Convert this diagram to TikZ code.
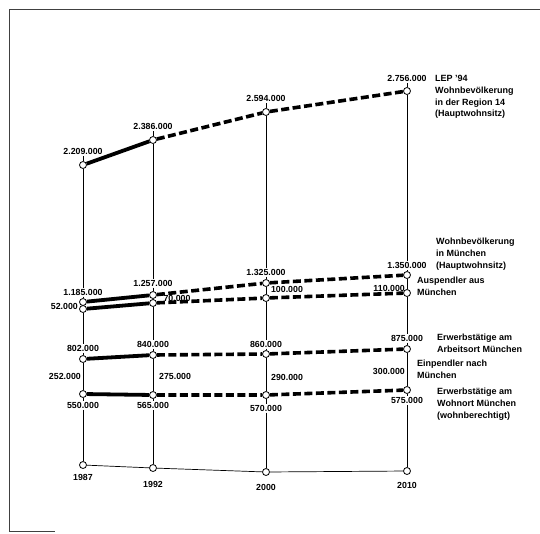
\documentclass[tikz,border=0pt]{standalone}
\usepackage{fontspec}
\setmainfont{Liberation Sans}
\usepackage{tikz}
\usetikzlibrary{positioning}
\usetikzlibrary{backgrounds}
\newcommand{\numfont}{\fontsize{8.8}{10}\selectfont\bfseries}
\newcommand{\txtfont}{\fontsize{9}{11.8}\selectfont\bfseries}
\tikzset{
    knot/.style={draw, circle, fill=white, minimum size=7pt, inner sep=0pt, line width=0.8pt},
    num/.style={font=\numfont, inner sep=1pt},
    caption/.style={font=\txtfont, anchor=west, align=left, inner sep=0pt},
    axis/.style={line width=0.7pt},
    past/.style={line width=3.8pt},
    plan/.style={line width=3.6pt, dash pattern=on 8pt off 3.5pt},
    frame/.style={line width=0.9pt, black!75}
}

\begin{document}
\begin{tikzpicture}[x=1pt, y=-1pt]
      \useasboundingbox (0,0) rectangle (540,533);
      \draw[frame] (540,9) -- (9,9) -- (9,531) -- (55,531);

      % Region 14
      \node[knot] (reg87) at (83,165) {};
      \node[knot] (reg92) at (153,140) {};
      \node[knot] (reg00) at (266,112) {};
      \node[knot] (reg10) at (407,91) {};
      \node[num, above=5pt of reg87] (lreg87) {2.209.000};
      \node[num, above=5pt of reg92] (lreg92) {2.386.000};
      \node[num, above=5pt of reg00] (lreg00) {2.594.000};
      \node[num, above=4pt of reg10] (lreg10) {2.756.000};

      % Muenchen
      \node[knot] (muc87) at (83,302) {};
      \node[knot] (muc92) at (153,295) {};
      \node[knot] (muc00) at (266,283) {};
      \node[knot] (muc10) at (407,275) {};
      \node[num, above=1.5pt of muc87] (lmuc87) {1.185.000};
      \node[num, above=3.5pt of muc92] (lmuc92) {1.257.000};
      \node[num, above=2.5pt of muc00] (lmuc00) {1.325.000};
      \node[num, above=1pt of muc10] (lmuc10) {1.350.000};

      % Auspendler
      \node[knot] (aus87) at (83,309) {};
      \node[knot] (aus92) at (153,303) {};
      \node[knot] (aus00) at (266,298) {};
      \node[knot] (aus10) at (407,293) {};
      \node[num, anchor=east] (laus87) at (79,306) {52.000};
      \node[num] (laus92) at (177,298) {70.000};
      \node[num] (laus00) at (287,289) {100.000};
      \node[num, anchor=east] (laus10) at (406,288) {110.000};

      % Arbeitsort
      \node[knot] (arb87) at (83,359) {};
      \node[knot] (arb92) at (153,355) {};
      \node[knot] (arb00) at (266,354) {};
      \node[knot] (arb10) at (407,349) {};
      \node[num, above=2.5pt of arb87] (larb87) {802.000};
      \node[num, above=2.5pt of arb92] (larb92) {840.000};
      \node[num, above=1.5pt of arb00] (larb00) {860.000};
      \node[num, above=2.5pt of arb10] (larb10) {875.000};

      % Einpendler
      \node[num, anchor=east] (lein87) at (82,376) {252.000};
      \node[num, anchor=west] (lein92) at (158,376) {275.000};
      \node[num, anchor=west] (lein00) at (270,377) {290.000};
      \node[num, anchor=east] (lein10) at (406,371) {300.000};

      % Wohnort
      \node[knot] (woh87) at (83,394) {};
      \node[knot] (woh92) at (153,395) {};
      \node[knot] (woh00) at (266,395) {};
      \node[knot] (woh10) at (407,390) {};
      \node[num, below=3pt of woh87] (lwoh87) {550.000};
      \node[num, below=2.5pt of woh92] (lwoh92) {565.000};
      \node[num, below=5pt of woh00] (lwoh00) {570.000};
      \node[num, below=2.5pt of woh10] (lwoh10) {575.000};

      % years
      \node[knot] (year87) at (83,465) {};
      \node[knot] (year92) at (153,468) {};
      \node[knot] (year00) at (266,472) {};
      \node[knot] (year10) at (407,471) {};
      \node[num, below=4pt of year87] (lyear87) {1987};
      \node[num, below=8pt of year92] (lyear92) {1992};
      \node[num, below=7pt of year00] (lyear00) {2000};
      \node[num, below=6pt of year10] (lyear10) {2010};

      \node[caption] (treg) at (435,97) {LEP '94\\Wohnbevölkerung\\in der Region 14\\(Hauptwohnsitz)};
      \node[caption] (tmuc) at (436,254) {Wohnbevölkerung\\in München\\(Hauptwohnsitz)};
      \node[caption] (taus) at (417,286) {Auspendler aus\\München};
      \node[caption] (tarb) at (437,343) {Erwerbstätige am\\Arbeitsort München};
      \node[caption] (tein) at (417,369.5) {Einpendler nach\\München};
      \node[caption] (twoh) at (437,404) {Erwerbstätige am\\Wohnort München\\(wohnberechtigt)};

      \begin{pgfonlayer}{background}
      \draw[axis] (lreg87) -- (reg87) (reg87) -- (lmuc87) (lmuc87) -- (muc87) (aus87) -- (larb87)
          (larb87) -- (arb87) (arb87) -- (woh87) (woh87) -- (lwoh87) (lwoh87) -- (year87);
      \draw[axis] (lreg92) -- (reg92) (reg92) -- (lmuc92) (lmuc92) -- (muc92) (muc92) -- (aus92) (aus92) -- (larb92)
          (larb92) -- (arb92) (arb92) -- (woh92) (woh92) -- (lwoh92) (lwoh92) -- (year92);
      \draw[axis] (lreg00) -- (reg00) (reg00) -- (lmuc00) (lmuc00) -- (muc00) (muc00) -- (aus00) (aus00) -- (larb00)
          (larb00) -- (arb00) (arb00) -- (woh00) (woh00) -- (lwoh00) (lwoh00) -- (year00);
      \draw[axis] (lreg10) -- (reg10) (reg10) -- (lmuc10) (lmuc10) -- (muc10) (muc10) -- (aus10) (aus10) -- (larb10)
          (larb10) -- (arb10) (arb10) -- (woh10) (woh10) -- (lwoh10) (lwoh10) -- (year10);
      \draw[axis] (year87) -- (year92) -- (year00) -- (year10);

      \draw[past] (reg87) -- (reg92);
      \draw[plan] (reg92) -- (reg00) -- (reg10);
      \draw[past] (muc87) -- (muc92);
      \draw[plan] (muc92) -- (muc00) -- (muc10);
      \draw[past] (aus87) -- (aus92);
      \draw[plan] (aus92) -- (aus00) -- (aus10);
      \draw[past] (arb87) -- (arb92);
      \draw[plan] (arb92) -- (arb00) -- (arb10);
      \draw[past] (woh87) -- (woh92);
      \draw[plan] (woh92) -- (woh00) -- (woh10);
      \end{pgfonlayer}

\end{tikzpicture}
\end{document}
